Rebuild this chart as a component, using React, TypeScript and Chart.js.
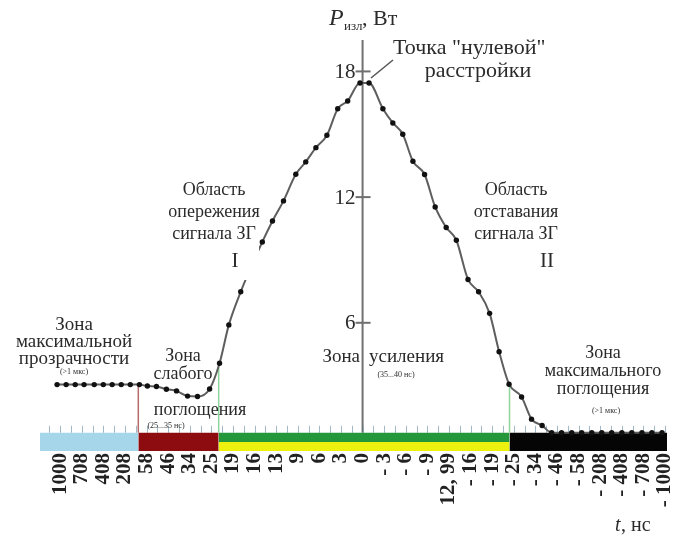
import { useEffect, useRef } from "react";
import { Chart, registerables } from "chart.js";

Chart.register(...registerables);

// Delay labels along the bottom ruler (ns), one per step
const delayLabels = [
  "1000", "708", "408", "208", "58", "46", "34", "25", "19", "16", "13", "9", "6", "3", "0",
  "- 3", "- 6", "- 9", "12, 99", "- 16", "- 19", "- 25", "- 34", "- 46", "- 58", "- 208", "- 408", "- 708", "- 1000",
];

// Measured samples: position on the delay ruler (in label steps) and radiated power, W
const sampleAt = [
  -0.14, 0.28, 0.7, 1.11, 1.58, 2.0, 2.41, 2.83, 3.25, 3.67,
  4.04, 4.46, 4.92, 5.39, 5.9, 6.36, 6.92, 7.38, 7.81, 8.36,
  9.36, 9.83, 10.34, 10.91, 11.37, 11.84, 12.35, 12.85, 13.31, 13.88, 14.3,
  14.94, 15.4, 15.86, 16.33, 16.87, 17.36, 17.87, 18.34, 18.88, 19.37, 19.88, 20.32, 20.78,
  21.36, 21.82, 22.31,
  22.75, 23.21, 23.68, 24.14, 24.61, 25.07, 25.53, 26.0, 26.46, 26.93, 27.39, 27.86,
];
const powerW = [
  3.05, 3.05, 3.05, 3.05, 3.05, 3.05, 3.05, 3.05, 3.05, 3.05,
  2.98, 2.96, 2.83, 2.75, 2.5, 2.48, 2.84, 4.07, 5.9, 7.48,
  9.86, 10.86, 11.82, 13.09, 13.68, 14.36, 14.95, 16.22, 16.59, 17.45, 17.45,
  16.22, 15.54, 15.0, 13.71, 13.08, 11.53, 10.55, 9.94, 8.07, 7.48, 6.45, 4.62, 3.07,
  2.46, 1.4, 1.1,
  0.75, 0.75, 0.75, 0.75, 0.75, 0.75, 0.75, 0.75, 0.75, 0.75, 0.75, 0.75,
];

// Zone boundaries on the ruler strip (label steps)
const zoneEdges = [-0.93, 3.62, 7.34, 20.8, 28.09];
// Power level of the strip's upper edge and of the green/yellow split
const stripTop = 0.75;
const stripSplit = 0.31;

// Power axis marks, W
const powerTicks = [6, 12, 18];

// Levels where the zone borders meet the curve
const borderAt = [3.62, 7.34, 20.8];
const borderFrom = [3.05, 3.9, 3.0];

const X_MIN = -0.93;
const X_MAX = 28.09;
const Y_MIN = -0.12;
const Y_MAX = 19.5;
const CENTER_STEP = 14;

const SERIF = '"Liberation Serif", "Times New Roman", serif';

function strip(from: number, to: number, level: number, color: string, order: number) {
  return {
    type: "line" as const,
    data: [
      { x: from, y: level },
      { x: to, y: level },
    ],
    borderWidth: 0,
    pointRadius: 0,
    backgroundColor: color,
    fill: "start",
    order,
  };
}

function border(at: number, from: number, color: string) {
  return {
    type: "line" as const,
    data: [
      { x: at, y: from },
      { x: at, y: stripTop },
    ],
    borderColor: color,
    borderWidth: 1.5,
    pointRadius: 0,
    fill: false,
    order: 1,
  };
}

const overlay = {
  id: "overlay",
  beforeDatasetsDraw(chart: any) {
    const { ctx } = chart;
    const xs = chart.scales.x;
    const ys = chart.scales.y;
    const ax = xs.getPixelForValue(CENTER_STEP);
    ctx.save();
    // central power axis
    ctx.strokeStyle = "#707070";
    ctx.lineWidth = 2;
    ctx.beginPath();
    ctx.moveTo(ax, ys.getPixelForValue(Y_MAX));
    ctx.lineTo(ax, ys.getPixelForValue(stripTop));
    ctx.stroke();
    ctx.fillStyle = "#2b2b2b";
    ctx.font = `21px ${SERIF}`;
    ctx.textAlign = "right";
    ctx.textBaseline = "middle";
    powerTicks.forEach((v) => {
      const py = ys.getPixelForValue(v);
      ctx.beginPath();
      ctx.moveTo(ax - 7, py);
      ctx.lineTo(ax + 8, py);
      ctx.stroke();
      ctx.fillText(String(v), ax - 7, py + 1);
    });
    // small ruler ticks above the strip
    const top = ys.getPixelForValue(stripTop);
    ctx.strokeStyle = "rgba(130,160,180,0.75)";
    ctx.lineWidth = 1;
    for (let s = -0.5; s <= 28.01; s += 0.5) {
      const px = Math.round(xs.getPixelForValue(s)) + 0.5;
      ctx.beginPath();
      ctx.moveTo(px, top - 7);
      ctx.lineTo(px, top);
      ctx.stroke();
    }
    ctx.restore();
  },
  afterDatasetsDraw(chart: any) {
    const { ctx } = chart;
    ctx.save();
    ctx.fillStyle = "#2b2b2b";
    ctx.textBaseline = "alphabetic";

    const text = (s: string, x: number, y: number, size: number, align: CanvasTextAlign = "center", style = "") => {
      ctx.font = `${style}${size}px ${SERIF}`;
      ctx.textAlign = align;
      ctx.fillText(s, x, y);
    };

    // axis titles
    text("P", 329, 25, 24, "left", "italic ");
    text("изл", 344, 30, 13, "left");
    text(", Вт", 362, 25, 22, "left");
    text("t", 615, 531, 20, "left", "italic ");
    text(", нс", 621, 531, 20, "left");

    // zero-detuning point
    text("Точка \"нулевой\"", 393, 54, 22, "left");
    text("расстройки", 478, 77, 22);
    ctx.strokeStyle = "#555";
    ctx.lineWidth = 1.5;
    ctx.beginPath();
    ctx.moveTo(371, 78);
    ctx.lineTo(393, 60);
    ctx.stroke();

    // lead / lag regions
    text("Область", 214, 195, 18);
    text("опережения", 214, 217, 18);
    text("сигнала ЗГ", 214, 239, 18);
    ctx.fillStyle = "#ffffff";
    ctx.fillRect(223, 246, 36, 34);
    ctx.fillStyle = "#2b2b2b";
    text("I", 235, 267, 21);

    text("Область", 516, 195, 18);
    text("отставания", 516, 217, 18);
    text("сигнала ЗГ", 516, 239, 18);
    text("II", 547, 267, 21);

    // zones
    text("Зона", 74, 330, 19);
    text("максимальной", 74, 347, 19);
    text("прозрачности", 74, 364, 19);
    text("(>1 мкс)", 74, 374, 8);

    text("Зона", 183, 361, 18);
    text("слабого", 183, 379, 18);
    text("поглощения", 200, 415, 18);
    text("(25...35 нс)", 166, 428, 8);

    text("Зона", 360, 362, 19, "right");
    text("усиления", 369, 362, 19, "left");
    text("(35...40 нс)", 396, 377, 8);

    text("Зона", 603, 358, 18);
    text("максимального", 603, 376, 18);
    text("поглощения", 603, 394, 18);
    text("(>1 мкс)", 606, 413, 8);

    ctx.restore();
  },
};

export default function App() {
  const ref = useRef<HTMLCanvasElement>(null);

  useEffect(() => {
    const canvas = ref.current;
    if (!canvas) return;
    const curve = sampleAt.map((x, i) => ({ x, y: powerW[i] }));

    const chart = new Chart(canvas, {
      type: "line",
      data: {
        datasets: [
          {
            data: curve,
            borderColor: "#5e5e5e",
            borderWidth: 2,
            pointRadius: 2.7,
            pointBackgroundColor: "#111",
            pointBorderColor: "#111",
            pointBorderWidth: 0,
            cubicInterpolationMode: "monotone",
            fill: false,
            order: 0,
          } as any,
          border(borderAt[0], borderFrom[0], "#b46a6a"),
          border(borderAt[1], borderFrom[1], "#8fd49c"),
          border(borderAt[2], borderFrom[2], "#8fd49c"),
          strip(zoneEdges[2], zoneEdges[3], stripSplit, "#eef00e", 2),
          strip(zoneEdges[2], zoneEdges[3], stripTop, "#23973a", 3),
          strip(zoneEdges[0], zoneEdges[1], stripTop, "#a5d6e9", 3),
          strip(zoneEdges[1], zoneEdges[2], stripTop, "#8c0c10", 3),
          strip(zoneEdges[3], zoneEdges[4], stripTop, "#050505", 3),
        ] as any,
      },
      options: {
        responsive: false,
        animation: false,
        events: [],
        layout: { padding: { left: 40, right: 8, top: 40, bottom: 0 } },
        plugins: {
          legend: { display: false },
          tooltip: { enabled: false },
        },
        scales: {
          x: {
            type: "linear",
            min: X_MIN,
            max: X_MAX,
            grid: { display: false, drawTicks: false },
            border: { display: false },
            afterBuildTicks: (scale: any) => {
              scale.ticks = delayLabels.map((_, i) => ({ value: i }));
            },
            afterFit: (scale: any) => {
              scale.height = 90;
              scale.paddingLeft = 0;
              scale.paddingRight = 0;
            },
            ticks: {
              autoSkip: false,
              minRotation: 90,
              maxRotation: 90,
              padding: 2,
              color: "#222",
              font: { family: SERIF, size: 21, weight: "bold" },
              callback: (v: any) => delayLabels[Math.round(Number(v))] ?? "",
            },
          },
          y: {
            type: "linear",
            min: Y_MIN,
            max: Y_MAX,
            display: false,
          },
        },
      },
      plugins: [overlay],
    });

    return () => chart.destroy();
  }, []);

  return (
    <div style={{ position: "fixed", left: 0, top: 0, width: 675, height: 541, background: "#fff" }}>
      <canvas ref={ref} width={675} height={541} style={{ display: "block" }} />
    </div>
  );
}
